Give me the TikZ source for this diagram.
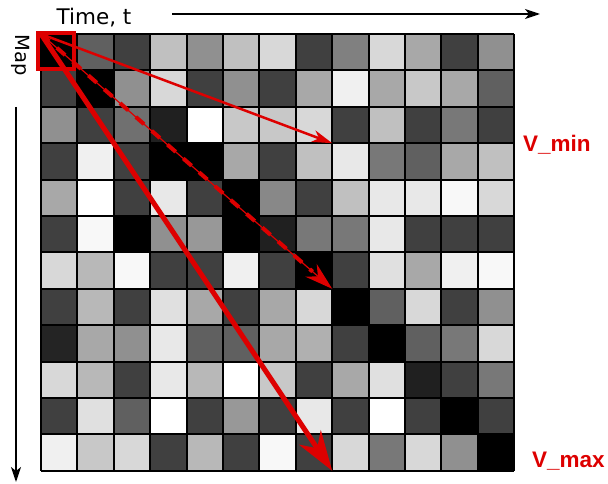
\documentclass[tikz,border=0pt]{standalone}
\usepackage{fontspec}
\setmainfont{DejaVu Sans}
\newfontfamily\labelfont{Liberation Sans}
\usetikzlibrary{arrows.meta}
\definecolor{vred}{RGB}{221,0,0}
\begin{document}
\begin{tikzpicture}[x=1pt,y=-1pt,
  axisarrow/.style={line width=1.5pt,-{Stealth[length=15pt,width=10pt,inset=4pt]}},
  redtext/.style={text=vred,font=\labelfont\bfseries\fontsize{22.5}{25}\selectfont,inner sep=0pt},
  gridline/.style={line width=2pt,black}]
\useasboundingbox (0,0) rectangle (608,484);
\def\cs{36.4}
% grey cells, one row per list
\foreach \rowvals [count=\r from 0] in {
  {0,96,64,192,144,192,216,64,128,216,168,64,144},
  {64,0,144,216,64,144,64,168,240,168,200,168,96},
  {144,64,112,32,255,200,200,216,64,192,64,120,64},
  {64,240,64,0,0,168,64,192,232,120,96,168,192},
  {168,255,64,232,64,0,136,64,192,232,232,248,216},
  {64,248,0,144,152,0,32,120,120,232,64,64,64},
  {216,184,248,64,64,240,64,0,64,224,168,240,248},
  {64,184,64,224,168,64,168,216,0,96,216,64,144},
  {36,168,144,232,96,96,168,176,64,0,96,120,216},
  {216,184,64,232,184,255,200,64,168,224,32,64,120},
  {64,224,96,255,64,152,64,232,64,255,64,0,64},
  {240,200,216,64,184,64,248,64,216,120,216,144,0}} {
  \foreach \v [count=\c from 0] in \rowvals {
    \definecolor{cellc}{RGB}{\v,\v,\v}
    \fill[cellc] ({41+\c*\cs},{34+\r*\cs}) rectangle ++(\cs,\cs);
  }
}
% grid lines
\foreach \c in {0,...,13} \draw[gridline] ({41+\c*\cs},34) -- ({41+\c*\cs},{34+12*\cs});
\foreach \r in {0,...,12} \draw[gridline] (41,{34+\r*\cs}) -- ({41+13*\cs},{34+\r*\cs});
\node[inner sep=0pt,minimum width=473.2pt,minimum height=436.8pt,anchor=north west] (grid) at (41,34) {};

% axes
\coordinate (ts) at (172,14);
\coordinate (te) at (540,14);
\draw[axisarrow] (ts) -- (te);
\node[anchor=base,font=\fontsize{21.5}{24}\selectfont,inner sep=0pt] (tlabel) at (94,24.5) {Time, t};
\coordinate (ms) at (16,107);
\coordinate (me) at (16,482);
\draw[axisarrow] (ms) -- (me);
\node[rotate=-90,font=\fontsize{19.5}{22}\selectfont,inner sep=0pt] (mlabel) at (20.5,55) {Map};

% selected cell
\node[draw=vred,line width=4pt,minimum size=36pt,inner sep=0pt] (sel) at (56,51.5) {};

% target corners
\coordinate (tmin) at ({41+8*\cs},{34+3*\cs});
\coordinate (tmid) at ({41+8*\cs},{34+7*\cs});
\coordinate (tmax) at ({41+8*\cs},{34+12*\cs});

\draw[vred,line width=2.5pt,-{Stealth[length=20pt,width=12pt,inset=6pt]}] (grid.north west) -- (tmin);
\draw[vred,line width=1.2pt,-{Stealth[length=28pt,width=17pt,inset=9pt]}] (grid.north west) -- (tmid);
\draw[vred,line width=4pt,dash pattern=on 11pt off 10pt,shorten >=26pt] (grid.north west) -- (tmid);
\draw[vred,line width=5pt,-{Stealth[length=40pt,width=26pt,inset=13pt]}] (grid.north west) -- (tmax);

\node[redtext,anchor=base west] (vmin) at (523,152) {V\_min};
\node[redtext,anchor=base west] (vmax) at (532,467) {V\_max};
\end{tikzpicture}
\end{document}
